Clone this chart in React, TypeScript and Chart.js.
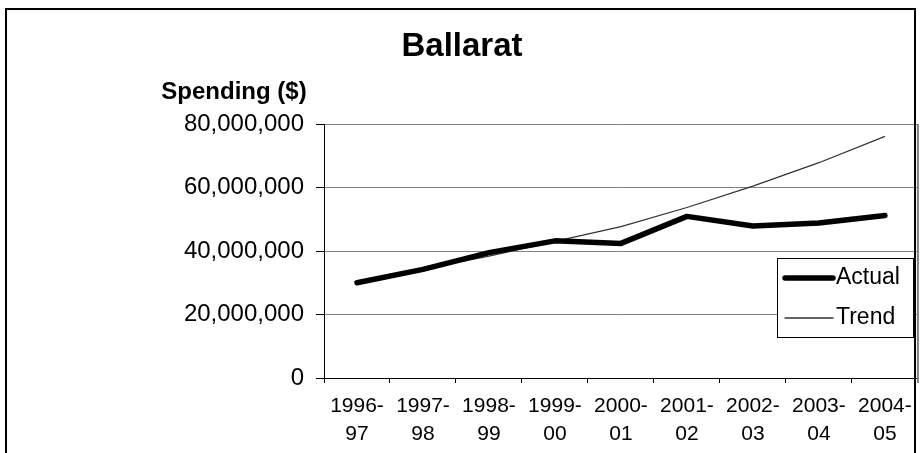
import { useEffect, useRef } from "react";
import { Chart, registerables } from "chart.js";

Chart.register(...registerables);

const chartTitle = "Ballarat";
const yAxisCaption = "Spending ($)";
const categories = ["1996-97", "1997-98", "1998-99", "1999-00", "2000-01", "2001-02", "2002-03", "2003-04", "2004-05"];
const seriesLabels = ["Actual", "Trend"];
const actualValues = [30000000, 34200000, 39500000, 43200000, 42400000, 50900000, 47900000, 48800000, 51200000];
const trendValues = [30500000, 34300000, 38400000, 43000000, 47700000, 53700000, 60400000, 67800000, 76100000];
const yMin = 0;
const yMax = 80000000;
const yStep = 20000000;

const FONT = "'Liberation Sans', Arial, Helvetica, sans-serif";

const decorPlugin = {
  id: "decor",
  afterDraw(chart: any) {
    const { ctx, chartArea } = chart;
    ctx.save();
    // plot area right border
    ctx.strokeStyle = "#808080";
    ctx.lineWidth = 2;
    ctx.beginPath();
    ctx.moveTo(chartArea.right, chartArea.top);
    ctx.lineTo(chartArea.right, chartArea.bottom + 5);
    ctx.stroke();
    // outer frame
    ctx.strokeStyle = "#000";
    ctx.lineWidth = 2;
    ctx.strokeRect(6, 9, 909, 470);
    // y-axis caption
    ctx.font = `bold 24px ${FONT}`;
    ctx.fillStyle = "#000";
    ctx.textAlign = "center";
    ctx.textBaseline = "middle";
    ctx.fillText(yAxisCaption, 234, 92);
    // legend
    const bx = 777.5, by = 258.5, bw = 136, bh = 79;
    ctx.fillStyle = "#fff";
    ctx.fillRect(bx, by, bw, bh);
    ctx.strokeStyle = "#000";
    ctx.lineWidth = 1;
    ctx.strokeRect(bx, by, bw, bh);
    const rows = [278, 318];
    chart.data.datasets.forEach((ds: any, i: number) => {
      const y = rows[i];
      ctx.strokeStyle = ds.borderColor;
      ctx.lineWidth = ds.borderWidth;
      ctx.lineCap = "round";
      ctx.beginPath();
      ctx.moveTo(785, y);
      ctx.lineTo(833, y);
      ctx.stroke();
      ctx.fillStyle = "#000";
      ctx.font = `23px ${FONT}`;
      ctx.textAlign = "left";
      ctx.textBaseline = "middle";
      ctx.fillText(ds.label, 836, y);
    });
    ctx.restore();
  },
};

export default function App() {
  const canvasRef = useRef<HTMLCanvasElement | null>(null);

  useEffect(() => {
    const canvas = canvasRef.current;
    if (!canvas) return;
    const chart = new Chart(canvas, {
      type: "line",
      data: {
        labels: categories.map((c) => [c.slice(0, 5), c.slice(5)]),
        datasets: [
          {
            label: seriesLabels[0],
            data: actualValues,
            borderColor: "#000000",
            borderWidth: 5.5,
            pointRadius: 0,
            tension: 0,
            fill: false,
            borderCapStyle: "round",
            borderJoinStyle: "round",
          },
          {
            label: seriesLabels[1],
            data: trendValues,
            borderColor: "#333333",
            borderWidth: 1.3,
            pointRadius: 0,
            tension: 0,
            fill: false,
          },
        ],
      },
      options: {
        animation: false,
        responsive: true,
        maintainAspectRatio: false,
        layout: { padding: { left: 6, right: 4, top: 0, bottom: 0 } },
        plugins: {
          legend: { display: false },
          tooltip: { enabled: false },
          title: {
            display: true,
            text: chartTitle,
            color: "#000",
            font: { family: FONT, size: 33, weight: "bold", lineHeight: 1.2 },
            padding: { top: 27, bottom: 57.4 },
          },
        },
        scales: {
          x: {
            type: "category",
            offset: true,
            grid: {
              offset: true,
              drawOnChartArea: false,
              drawTicks: true,
              tickLength: 5,
              color: "#000",
            },
            border: { display: true, color: "#000", width: 1 },
            ticks: {
              color: "#000",
              font: { family: FONT, size: 21, lineHeight: 1.3 },
              padding: 10,
              maxRotation: 0,
              autoSkip: false,
            },
            afterFit: (scale: any) => {
              scale.height = 75;
            },
          },
          y: {
            min: yMin,
            max: yMax,
            grid: {
              color: "#808080",
              tickColor: "#000",
              tickLength: 8,
              drawTicks: true,
            },
            border: { display: true, color: "#000", width: 1 },
            ticks: {
              stepSize: yStep,
              color: "#000",
              font: { family: FONT, size: 24 },
              padding: 12,
              callback: (v: any) => Number(v).toLocaleString("en-US"),
            },
            afterFit: (scale: any) => {
              scale.width = 318;
            },
          },
        },
      },
      plugins: [decorPlugin],
    });
    return () => chart.destroy();
  }, []);

  return (
    <div style={{ position: "absolute", left: 0, top: 0, width: 922, height: 453 }}>
      <canvas ref={canvasRef} />
    </div>
  );
}
